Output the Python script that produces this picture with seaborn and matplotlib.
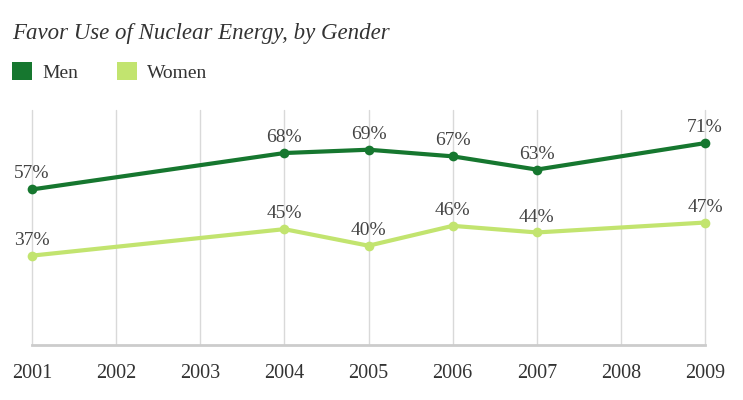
import matplotlib
matplotlib.use('Agg')
import matplotlib.pyplot as plt
from matplotlib.patches import Patch
import pandas as pd
import seaborn as sns

# Data
years = [2001, 2004, 2005, 2006, 2007, 2009]
men = [57, 68, 69, 67, 63, 71]
women = [37, 45, 40, 46, 44, 47]
tick_years = list(range(2001, 2010))

colors = {'Men': '#16772f', 'Women': '#c2e46f'}

df = pd.DataFrame({
    'year': years * 2,
    'pct': men + women,
    'group': ['Men'] * len(years) + ['Women'] * len(years),
})

sns.set_style('white')
plt.rcParams['font.family'] = ['Liberation Serif', 'DejaVu Serif']

fig = plt.figure(figsize=(7.43, 4.0), dpi=100)
ax = fig.add_axes([0.043, 0.1375, 0.906, 0.5875])

sns.lineplot(data=df, x='year', y='pct', hue='group', palette=colors,
             marker='o', markersize=7, markeredgewidth=0, linewidth=3,
             ax=ax, legend=False)

for line in ax.lines:
    line.set_clip_on(False)

for grp, vals in [('Men', men), ('Women', women)]:
    for x, y in zip(years, vals):
        ax.annotate(f'{y}%', (x, y), xytext=(0, 5), textcoords='offset points',
                    ha='center', va='bottom', fontsize=14, color='#444444')

ax.set_xlim(2001, 2009)
ax.set_ylim(10, 81)
ax.set_xticks(tick_years)
ax.set_xticklabels([str(y) for y in tick_years], fontsize=14.5, color='#333333')
ax.set_yticks([])
ax.tick_params(axis='x', length=0, pad=14)
ax.grid(axis='x', color='#d9d9d9', linewidth=1)
for gl in ax.get_xgridlines():
    gl.set_clip_on(False)
ax.set_axisbelow(True)
for s in ['top', 'right', 'left']:
    ax.spines[s].set_visible(False)
ax.spines['bottom'].set_color('#cccccc')
ax.spines['bottom'].set_linewidth(2)
ax.set_xlabel('')
ax.set_ylabel('')

fig.text(0.016, 0.915, 'Favor Use of Nuclear Energy, by Gender', fontsize=16.5,
         style='italic', color='#333333', va='center')

handles = [Patch(facecolor=colors[k], edgecolor='none') for k in ['Men', 'Women']]
fig.legend(handles, ['Men', 'Women'], loc='center left', bbox_to_anchor=(12 / 743, 0.82),
           ncol=2, frameon=False, fontsize=14, handlelength=1.05, handleheight=1.05,
           columnspacing=2.0, handletextpad=0.5, borderpad=0, borderaxespad=0,
           labelcolor='#333333')

fig.savefig('out.png', dpi=100)
